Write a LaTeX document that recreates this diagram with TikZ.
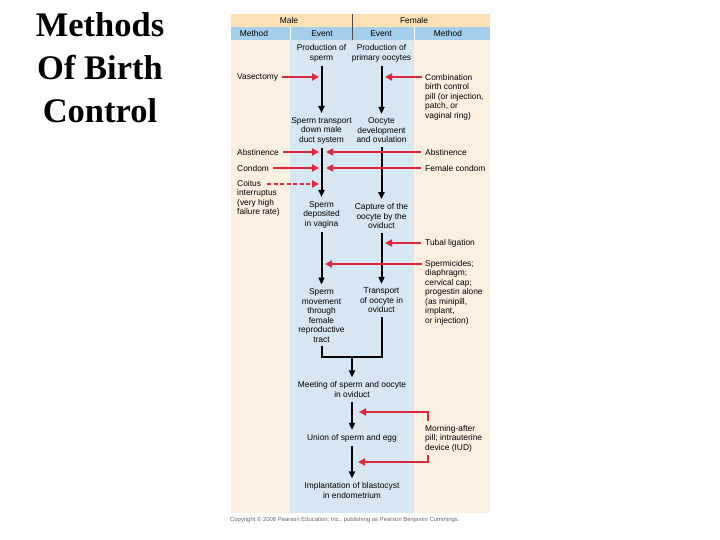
\documentclass[tikz,border=0pt]{standalone}
\usepackage{fontspec}
\setmainfont{Liberation Sans}
\newfontfamily\titlefont{Liberation Serif}
\usetikzlibrary{arrows.meta}
\definecolor{panelbg}{RGB}{253,240,224}
\definecolor{eventbg}{RGB}{214,230,242}
\definecolor{sexbar}{RGB}{252,225,180}
\definecolor{colbar}{RGB}{163,207,236}
\definecolor{blockred}{RGB}{218,42,58}

\begin{document}
\begin{tikzpicture}[x=1pt, y=-1pt,
  txt/.style={inner sep=0pt, font=\fontsize{8.4}{9.5}\selectfont},
  event/.style={txt, align=center},
  method/.style={txt, align=left, anchor=north west},
  flow/.style={line width=2pt, -{Triangle[length=7pt,width=6pt]}, shorten <=4pt, shorten >=4pt},
  block/.style={blockred, line width=2pt, -{Triangle[length=7pt,width=7pt]}, shorten <=4pt}]
\useasboundingbox (0,0) rectangle (720,540);

%% title
\node[align=center, inner sep=0pt, font=\titlefont\bfseries\fontsize{34.5}{43}\selectfont] (title) at (100,68) {Methods\\Of Birth\\Control};

%% table
\fill[panelbg] (231,14) rectangle (490,513);
\fill[eventbg] (290,40) rectangle (414,513);
\fill[sexbar] (231,14) rectangle (490,27);
\fill[colbar] (231,27) rectangle (490,40);
\draw[white, line width=.8pt] (290,27) -- (290,40) (414,27) -- (414,40);
\draw[black!70, line width=.8pt] (352,14) -- (352,40);
\node[txt] (male) at (289,20.5) {Male};
\node[txt] (female) at (414,20.5) {Female};
\node[txt] (mmethod) at (254,33.5) {Method};
\node[txt] (mevent) at (322,33.5) {Event};
\node[txt] (fevent) at (381,33.5) {Event};
\node[txt] (fmethod) at (448,33.5) {Method};

%% events
\node[event] (sperm) at (321.5,53.5) {Production of\\sperm};
\node[event] (oocytes) at (381.5,53.5) {Production of\\primary oocytes};
\node[event] (duct) at (321.5,130.5) {Sperm transport\\down male\\duct system};
\node[event] (ovulation) at (381.5,130.5) {Oocyte\\development\\and ovulation};
\node[event] (vagina) at (321.5,214.5) {Sperm\\deposited\\in vagina};
\node[event] (capture) at (381.5,216) {Capture of the\\oocyte by the\\oviduct};
\node[event] (tract) at (321.5,315.5) {Sperm\\movement\\through\\female\\reproductive\\tract};
\node[event] (transport) at (381.5,300.5) {Transport\\of oocyte in\\oviduct};
\node[event] (meeting) at (352,389.5) {Meeting of sperm and oocyte\\in oviduct};
\node[event] (union) at (352,438) {Union of sperm and egg};
\node[event] (implant) at (352,490.5) {Implantation of blastocyst\\in endometrium};
\coordinate (join) at (352,357);

\draw[flow] (sperm) -- (duct);
\draw[flow] (duct) -- (vagina);
\draw[flow] (vagina) -- (tract);
\draw[flow] (oocytes) -- (ovulation);
\draw[flow] (ovulation) -- (capture);
\draw[flow] (capture) -- (transport);
\draw[flow, -] (tract) |- (join) -| (transport);
\draw[flow, shorten <=0pt] (join) -- (meeting);
\draw[flow] (meeting) -- (union);
\draw[flow] (union) -- (implant);

%% methods
\node[txt, anchor=west] (vasectomy) at (237,77) {Vasectomy};
\node[method] (pill) at (425,74) {Combination\\birth control\\pill (or injection,\\patch, or\\vaginal ring)};
\node[txt, anchor=west] (abstm) at (237,152) {Abstinence};
\node[txt, anchor=west] (abstf) at (425,152) {Abstinence};
\node[txt, anchor=west] (condom) at (237,168) {Condom};
\node[txt, anchor=west] (fcondom) at (425,168) {Female condom};
\node[method] (coitus) at (237,180) {Coitus\\interruptus\\(very high\\failure rate)};
\node[txt, anchor=west] (tubal) at (425,243) {Tubal ligation};
\node[method] (spermicide) at (425,260) {Spermicides;\\diaphragm;\\cervical cap;\\progestin alone\\(as minipill,\\implant,\\or injection)};
\node[method] (morning) at (425,425) {Morning-after\\pill; intrauterine\\device (IUD)};

\coordinate (vasT) at (319,77);
\coordinate (pillT) at (385,77);
\coordinate (abstmT) at (319,152);
\coordinate (abstfT) at (326,152);
\coordinate (condomT) at (319,168);
\coordinate (fcondomT) at (326,168);
\coordinate (coitusT) at (319,184);
\coordinate (tubalT) at (385,243);
\coordinate (spermT) at (325,264);
\coordinate (afterT) at (359,412);
\coordinate (iudT) at (358,462);

\draw[block] (vasectomy) -- (vasT);
\draw[block, shorten <=3pt] ([yshift=-3pt]pill.north west) -- (pillT);
\draw[block] (abstm) -- (abstmT);
\draw[block] (abstf) -- (abstfT);
\draw[block] (condom) -- (condomT);
\draw[block] (fcondom) -- (fcondomT);
\draw[block, dash pattern=on 4pt off 2.5pt, shorten <=0pt] ([xshift=30pt,yshift=-4pt]coitus.north west) -- (coitusT);
\draw[block] (tubal) -- (tubalT);
\draw[block, shorten <=3pt] ([yshift=-4pt]spermicide.north west) -- (spermT);
\draw[block] ([xshift=3pt]morning.north west) |- (afterT);
\draw[block, shorten <=3pt] ([xshift=3pt]morning.south west) |- (iudT);

\node[txt, anchor=west, font=\fontsize{5.9}{6}\selectfont, text=black!60] (copyright) at (230,520) {Copyright \textcopyright{} 2008 Pearson Education, Inc., publishing as Pearson Benjamin Cummings.};
\end{tikzpicture}
\end{document}
